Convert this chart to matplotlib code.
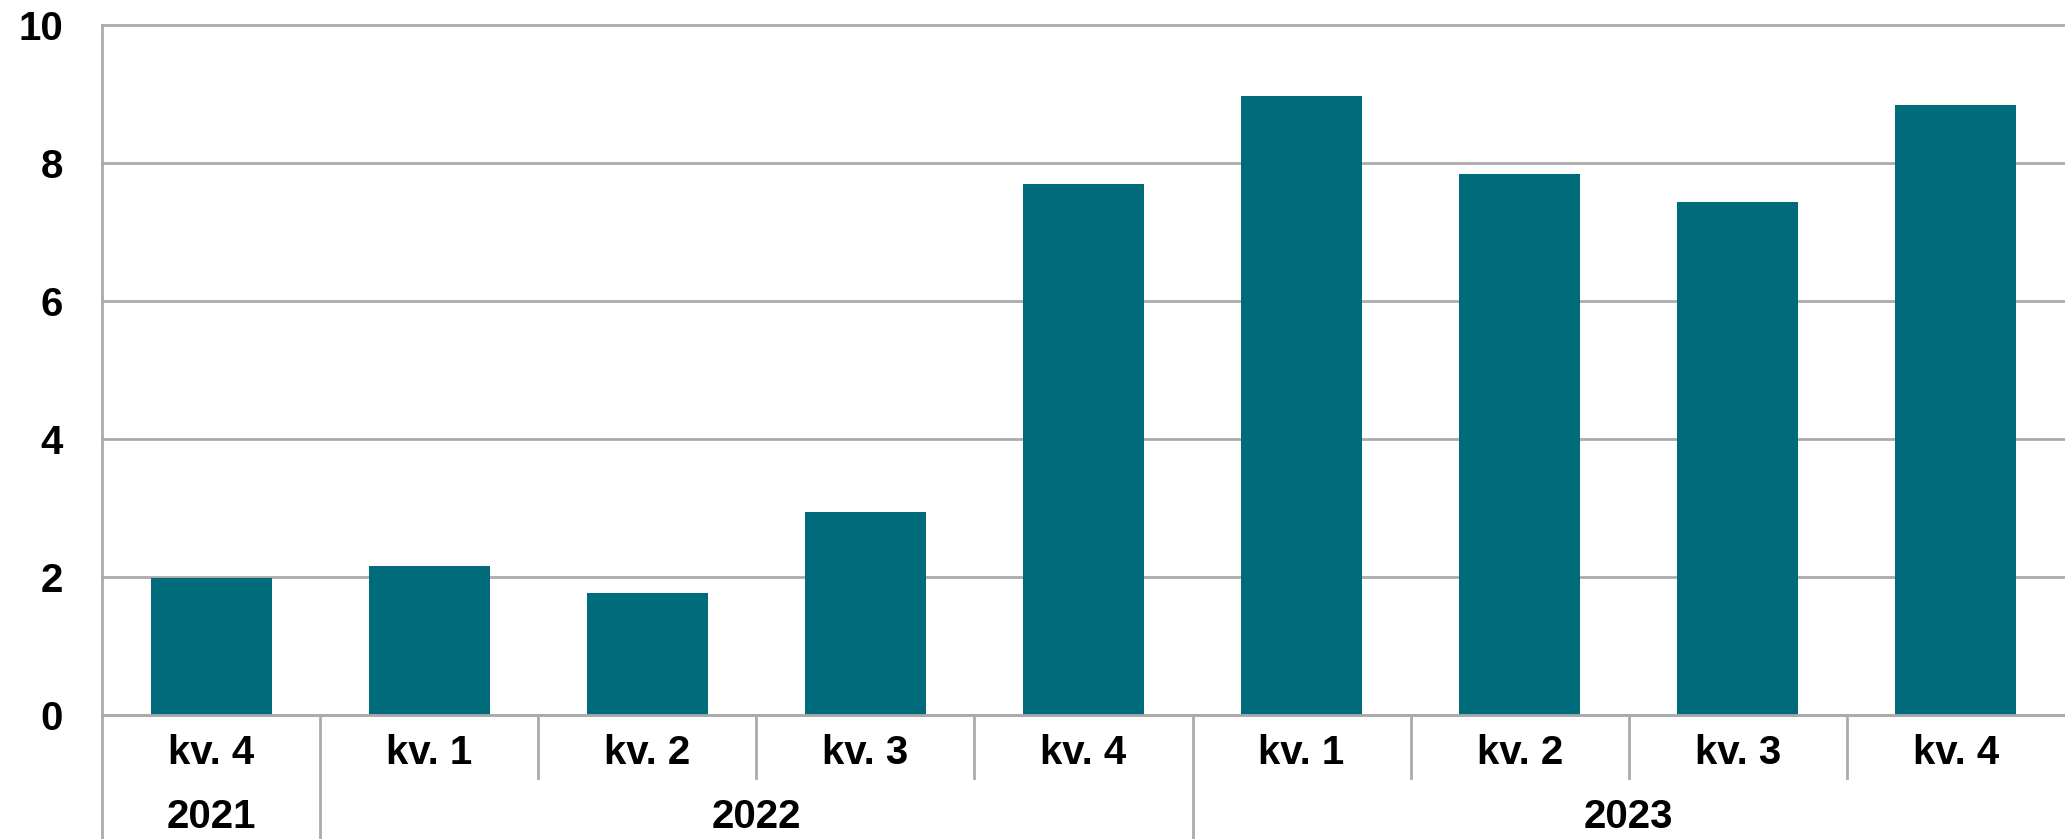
import numpy as np
import matplotlib.pyplot as plt

# quarterly values
quarters = ['kv. 4', 'kv. 1', 'kv. 2', 'kv. 3', 'kv. 4', 'kv. 1', 'kv. 2', 'kv. 3', 'kv. 4']
values = [1.99, 2.16, 1.77, 2.94, 7.70, 8.97, 7.84, 7.43, 8.84]
years = ['2021', '2022', '2023']
year_span = [(0, 0), (1, 4), (5, 8)]  # first/last quarter index for each year
yticks = [0, 2, 4, 6, 8, 10]

barColor = '#006B7A'
gridColor = '#ABABAB'
plt.rcParams['font.family'] = ['Liberation Sans', 'DejaVu Sans']
plt.rcParams['font.weight'] = 'bold'

fig = plt.figure(figsize=(20.65, 8.39), dpi=100)
ax = fig.add_axes([102 / 2065, 124 / 839, 1 - 102 / 2065, 690 / 839])

x = np.arange(len(values))
ax.bar(x, values, width=0.555, color=barColor, zorder=3)

ax.set_xlim(-0.5, len(values) - 0.5)
ax.set_ylim(0, 10)
ax.set_yticks(yticks)
ax.set_yticklabels([str(t) for t in yticks], fontsize=29, fontweight='bold')
ax.tick_params(axis='y', length=0, pad=28)
ax.set_xticks([])

ax.grid(axis='y', color=gridColor, linewidth=2, zorder=0)
for gl in ax.get_ygridlines():
    gl.set_clip_on(False)

for s in ['top', 'right', 'left']:
    ax.spines[s].set_visible(False)
ax.spines['bottom'].set_color(gridColor)
ax.spines['bottom'].set_linewidth(2)
ax.spines['bottom'].set_zorder(4)

# category separators below the axis
trans = ax.get_xaxis_transform()
yearEdges = [-0.5] + [s[1] + 0.5 for s in year_span[:-1]]
ax.plot([-0.5, -0.5], [-0.2, 1.0], transform=trans, color=gridColor, lw=2, clip_on=False)
for k in range(len(values) - 1):
    edge = k + 0.5
    bottom = -0.2 if edge in yearEdges else -0.0913
    ax.plot([edge, edge], [0, bottom], transform=trans, color=gridColor, lw=2, clip_on=False)

# quarter and year labels
for i, q in enumerate(quarters):
    ax.text(i, -0.055, q, transform=trans, ha='center', va='center',
            fontsize=29, fontweight='bold')
for yr, (a, b) in zip(years, year_span):
    ax.text((a + b) / 2, -0.148, yr, transform=trans, ha='center', va='center',
            fontsize=29, fontweight='bold')

plt.savefig('out.png', dpi=100)
